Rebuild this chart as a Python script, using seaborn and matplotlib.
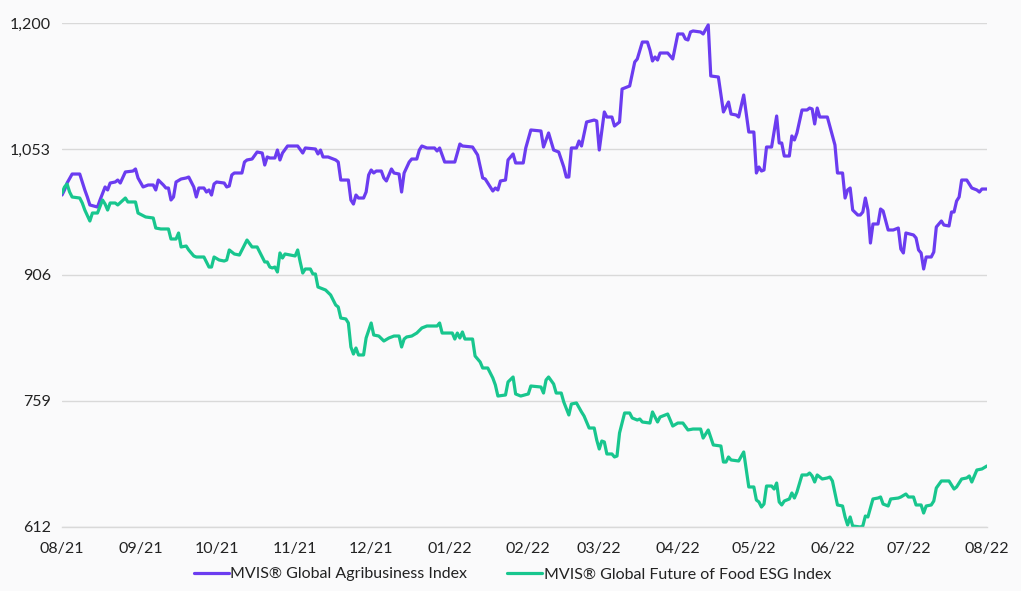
import numpy as np
import pandas as pd
import matplotlib
matplotlib.use("Agg")
import matplotlib.pyplot as plt
import matplotlib.dates as mdates
from matplotlib.ticker import FixedLocator, FuncFormatter
import seaborn as sns

START = "2021-08-01"

agri_days = [0, 1, 2, 4, 7, 8, 9, 10, 11, 14, 15, 17, 18, 19, 21, 22, 23, 25, 28, 29,
             30, 32, 34, 36, 37, 38, 40, 41, 42, 43, 44, 45, 47, 49, 50, 52, 53, 54, 56, 57,
             58, 59, 60, 61, 64, 65, 66, 67, 68, 71, 72, 73, 75, 77, 79, 80, 81, 82, 84, 85,
             86, 87, 89, 93, 95, 96, 100, 101, 102, 103, 105, 108, 109, 110, 113, 114, 115, 116, 117, 119,
             120, 121, 122, 123, 124, 126, 127, 128, 130, 131, 133, 134, 135, 137, 138, 140, 141, 142, 144, 147,
             148, 149, 151, 155, 157, 158, 162, 164, 166, 167, 170, 171, 172, 173, 175, 176, 178, 179, 182, 183,
             185, 189, 190, 192, 194, 196, 198, 199, 200, 201, 203, 204, 205, 207, 210, 211, 212, 214, 215, 217,
             218, 220, 221, 224, 226, 227, 229, 231, 232, 233, 234, 235, 236, 239, 241, 243, 245, 246, 247, 248,
             249, 252, 253, 255, 256, 259, 261, 263, 264, 266, 267, 269, 271, 273, 274, 275, 276, 277, 278, 280,
             282, 283, 284, 285, 287, 288, 289, 290, 292, 294, 295, 296, 297, 298, 299, 302, 305, 306, 308, 309,
             310, 311, 312, 314, 315, 316, 317, 318, 319, 320, 322, 323, 324, 326, 328, 330, 331, 332, 333, 336,
             337, 338, 339, 340, 341, 343, 344, 345, 347, 348, 350, 351, 352, 353, 354, 355, 357, 359, 361, 362,
             363, 365]
agri_values = [999.3, 1005.2, 1013.3, 1023.8, 1023.8, 1014.5, 1005.2, 997.0, 987.7, 985.3,
               993.5, 1008.7, 1005.2, 1013.3, 1014.5, 1016.8, 1013.3, 1026.2, 1027.3, 1029.7,
               1019.2, 1008.7, 1011.0, 1011.0, 1005.2, 1016.8, 1011.0, 1007.5, 1007.5, 993.5,
               997.0, 1014.5, 1018.0, 1019.2, 1020.3, 1008.7, 997.0, 1007.5, 1007.5, 1002.8,
               1005.2, 999.3, 1012.2, 1014.5, 1013.3, 1008.7, 1009.8, 1022.7, 1025.0, 1025.0,
               1037.8, 1040.2, 1041.3, 1049.5, 1048.3, 1034.3, 1043.7, 1042.5, 1042.5, 1051.8,
               1040.2, 1048.3, 1056.5, 1056.5, 1048.3, 1054.2, 1053.0, 1047.2, 1051.8, 1043.7,
               1043.7, 1040.2, 1037.8, 1016.8, 1016.8, 993.5, 988.8, 999.3, 995.8, 995.8,
               1002.8, 1022.7, 1028.5, 1025.0, 1027.3, 1027.3, 1019.2, 1015.7, 1029.7, 1025.0,
               1023.8, 1002.8, 1025.0, 1037.8, 1041.3, 1041.3, 1051.8, 1056.5, 1054.2, 1054.2,
               1050.7, 1054.2, 1037.8, 1037.8, 1058.8, 1056.5, 1055.3, 1046.0, 1019.2, 1018.0,
               1004.0, 1007.5, 1005.2, 1015.7, 1016.8, 1040.2, 1047.2, 1036.7, 1036.7, 1054.2,
               1075.2, 1074.0, 1055.3, 1071.7, 1051.8, 1049.5, 1032.0, 1020.3, 1020.3, 1054.2,
               1054.2, 1062.3, 1056.5, 1084.5, 1086.8, 1085.7, 1051.8, 1096.2, 1090.3, 1090.3,
               1079.8, 1084.5, 1123.0, 1126.5, 1154.5, 1158.0, 1177.8, 1177.8, 1168.5, 1155.7,
               1160.3, 1156.8, 1165.0, 1165.0, 1158.0, 1187.2, 1187.2, 1181.3, 1180.2, 1189.5,
               1190.7, 1189.5, 1187.2, 1197.7, 1138.2, 1137.0, 1096.2, 1107.8, 1093.8, 1092.7,
               1090.3, 1116.0, 1072.8, 1072.8, 1025.0, 1032.0, 1027.3, 1028.5, 1055.3, 1055.3,
               1091.5, 1060.0, 1060.0, 1044.8, 1044.8, 1068.2, 1063.5, 1071.7, 1098.5, 1098.5,
               1100.8, 1099.7, 1082.2, 1100.8, 1090.3, 1090.3, 1057.7, 1025.0, 1025.0, 995.8,
               1005.2, 1007.5, 981.8, 976.0, 976.0, 979.5, 995.8, 981.8, 943.3, 965.5,
               965.5, 983.0, 980.7, 958.5, 958.5, 960.8, 936.3, 931.7, 955.0, 952.7,
               949.2, 935.2, 931.7, 913.0, 927.0, 927.0, 932.8, 962.0, 969.0, 964.3,
               963.2, 979.5, 979.5, 992.3, 997.0, 1016.8, 1016.8, 1007.5, 1005.2, 1002.8,
               1006.3, 1006.3]

food_days = [0, 1, 2, 3, 4, 7, 8, 9, 11, 12, 14, 16, 17, 18, 19, 21, 22, 25, 26, 29,
             30, 33, 36, 37, 39, 42, 43, 45, 46, 47, 49, 50, 52, 53, 56, 58, 59, 60, 62, 64,
             65, 66, 68, 70, 73, 75, 77, 78, 80, 81, 82, 83, 84, 85, 86, 87, 88, 92, 93, 94,
             95, 96, 98, 99, 100, 101, 103, 104, 106, 108, 109, 110, 112, 113, 114, 115, 116, 117, 119, 120,
             122, 123, 125, 127, 129, 131, 133, 134, 135, 136, 138, 140, 142, 144, 148, 149, 150, 154, 155, 156,
             157, 158, 159, 162, 163, 165, 166, 168, 170, 171, 172, 175, 176, 178, 179, 181, 184, 185, 189, 190,
             191, 192, 194, 195, 197, 198, 200, 201, 203, 205, 206, 208, 210, 211, 212, 213, 214, 215, 217, 218,
             219, 220, 222, 224, 225, 227, 228, 229, 232, 233, 235, 236, 239, 241, 243, 245, 247, 249, 252, 253,
             255, 257, 260, 261, 262, 263, 264, 267, 269, 271, 273, 274, 275, 276, 277, 278, 280, 281, 282, 283,
             284, 285, 287, 288, 289, 290, 292, 294, 295, 296, 297, 298, 300, 302, 303, 304, 306, 308, 309, 310,
             311, 312, 315, 316, 317, 318, 320, 322, 323, 324, 326, 327, 330, 331, 333, 334, 336, 337, 339, 340,
             341, 343, 344, 345, 347, 350, 352, 353, 355, 357, 358, 359, 361, 363, 365]
food_values = [1001.7, 1008.7, 1012.2, 1002.8, 997.0, 995.8, 990.0, 981.8, 969.0, 978.3,
               978.3, 993.5, 988.8, 981.8, 990.0, 990.0, 987.7, 995.8, 991.2, 991.2,
               978.3, 973.7, 972.5, 960.8, 959.7, 959.7, 948.0, 948.0, 955.0, 938.7,
               939.8, 935.2, 928.2, 927.0, 927.0, 915.3, 915.3, 927.0, 923.5, 922.3,
               923.5, 935.2, 930.5, 929.3, 946.8, 938.7, 938.7, 932.8, 921.2, 921.2,
               915.3, 914.2, 915.3, 909.5, 931.7, 925.8, 930.5, 928.2, 935.2, 921.2,
               908.3, 913.0, 913.0, 907.2, 907.2, 892.0, 889.7, 888.5, 882.7, 871.0,
               868.7, 855.8, 854.7, 850.0, 822.0, 813.8, 820.8, 812.7, 812.7, 832.5,
               850.0, 836.0, 834.8, 829.0, 832.5, 834.8, 834.8, 822.0, 831.3, 833.7,
               834.8, 838.3, 844.2, 846.5, 846.5, 850.0, 838.3, 838.3, 831.3, 838.3,
               832.5, 839.5, 831.3, 831.3, 811.5, 804.5, 797.5, 797.5, 785.8, 777.7,
               764.8, 766.0, 781.2, 787.0, 767.2, 764.8, 767.2, 776.5, 775.3, 768.3,
               783.5, 787.0, 778.8, 768.3, 768.3, 757.8, 742.7, 755.5, 756.7, 746.2,
               741.5, 727.5, 727.5, 713.5, 703.0, 712.3, 711.2, 697.2, 697.2, 693.7,
               694.8, 721.7, 745.0, 745.0, 739.2, 736.8, 738.0, 734.5, 733.3, 746.2,
               734.5, 740.3, 743.8, 729.8, 733.3, 733.3, 725.2, 726.3, 726.3, 715.8,
               725.2, 707.7, 706.5, 687.8, 687.8, 693.7, 690.2, 689.0, 699.5, 658.7,
               658.7, 643.5, 641.2, 635.3, 638.8, 659.8, 659.8, 656.3, 663.3, 641.2,
               637.7, 642.3, 644.7, 651.7, 645.8, 652.8, 672.7, 672.7, 675.0, 671.5,
               664.5, 672.7, 668.0, 669.2, 670.3, 665.7, 637.7, 636.5, 623.7, 614.3,
               623.7, 613.2, 612.0, 613.2, 624.8, 623.7, 644.7, 645.8, 647.0, 638.8,
               636.5, 644.7, 645.8, 647.0, 650.5, 647.0, 647.0, 637.7, 637.7, 628.3,
               636.5, 637.7, 642.3, 657.5, 665.7, 665.7, 656.3, 658.7, 668.0, 669.2,
               671.5, 664.5, 678.5, 679.7, 683.2]

series_names = ["MVIS\u00ae Global Agribusiness Index", "MVIS\u00ae Global Future of Food ESG Index"]
series_colors = ["#6B3CF0", "#18C68E"]
y_ticks = [612, 759, 906, 1053, 1200]

start = pd.Timestamp(START)
df = pd.concat([
    pd.DataFrame({"date": start + pd.to_timedelta(agri_days, unit="D"),
                  "value": agri_values, "series": series_names[0]}),
    pd.DataFrame({"date": start + pd.to_timedelta(food_days, unit="D"),
                  "value": food_values, "series": series_names[1]}),
], ignore_index=True)

sns.set_theme(style="white")
plt.rcParams["font.family"] = ["Lato", "DejaVu Sans"]

bg = "#FAFAFB"
fig = plt.figure(figsize=(10.21, 5.91), dpi=100, facecolor=bg)
ax = fig.add_axes([62 / 1021, 1 - 527 / 591, 925 / 1021, 504 / 591])
ax.set_facecolor(bg)

sns.lineplot(data=df, x="date", y="value", hue="series", hue_order=series_names,
             palette=series_colors, linewidth=2.3, ax=ax, legend=True, estimator=None)

ax.set_xlim(start, pd.Timestamp("2022-08-01"))
ax.set_ylim(612, 1200)
ax.yaxis.set_major_locator(FixedLocator(y_ticks))
ax.yaxis.set_major_formatter(FuncFormatter(lambda v, p: f"{int(round(v)):,}"))
ax.xaxis.set_major_locator(mdates.MonthLocator())
ax.xaxis.set_major_formatter(mdates.DateFormatter("%m/%y"))

ax.grid(axis="y", color="#D9D9D9", linewidth=1.0)
ax.set_axisbelow(True)
for s in ["top", "right", "left"]:
    ax.spines[s].set_visible(False)
ax.spines["bottom"].set_color("#D9D9D9")
ax.spines["bottom"].set_linewidth(1.0)
ax.tick_params(axis="x", length=5, width=1, color="#D9D9D9", labelsize=11.5,
               labelcolor="#222222", pad=6)
ax.tick_params(axis="y", length=0, labelsize=11.5, labelcolor="#222222", pad=8)
ax.set_xlabel("")
ax.set_ylabel("")

handles, labels = ax.get_legend_handles_labels()
ax.legend(handles, labels, loc="center", bbox_to_anchor=(0.487, -0.094),
          ncol=2, frameon=False, fontsize=11.5, handlelength=2.2, handletextpad=0.1,
          columnspacing=2.5, labelcolor="#222222", borderpad=0.1)

fig.savefig("out.png", dpi=100, facecolor=bg)
